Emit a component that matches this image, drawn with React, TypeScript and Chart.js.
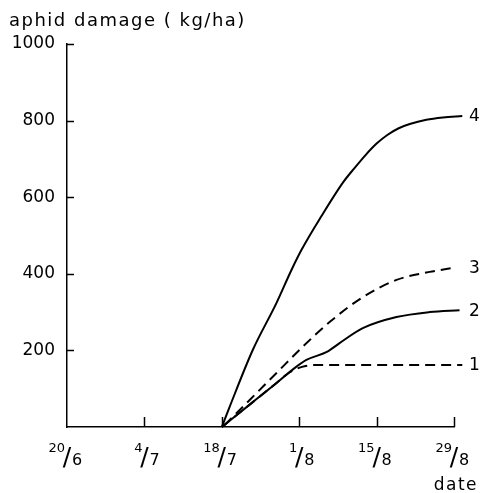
import React, { useEffect, useRef } from "react";
import { Chart, registerables } from "chart.js";

Chart.register(...registerables);

// x values are days after 20 June
const xTickDays = [0, 14, 28, 42, 56, 70];
const xTickNumerators = ["20", "4", "18", "1", "15", "29"];
const xTickDenominators = ["6", "7", "7", "8", "8", "8"];
const yTickValues = [200, 400, 600, 800, 1000];

const series1Days = [28, 33.6, 37.9, 40.3, 42.5, 45, 50, 60, 71.5];
const series1Values = [0, 65, 115, 143, 157, 162, 162, 162, 162];

const series2Days = [28, 33.6, 37.9, 40.3, 43.3, 47, 49.3, 53.5, 59.6, 65.6, 71];
const series2Values = [0, 65, 115, 144, 175, 196, 219, 258, 287, 300, 305];

const series3Days = [28.5, 33, 37.9, 42.6, 47.5, 53.5, 59.6, 65.6, 69.7];
const series3Values = [5, 70, 141, 209, 274, 339, 384, 405, 415];

const series4Days = [28, 29.4, 33.6, 37.9, 40.6, 42.4, 46, 50, 52, 54, 56, 58, 60, 62, 65, 68, 71.5];
const series4Values = [0, 52, 201, 324, 410, 462, 550, 640, 676, 710, 740, 763, 780, 791, 802, 808, 812];

const seriesLabels = ["1", "2", "3", "4"];
const yTitle = "aphid damage ( kg/ha)";
const xTitle = "date";

const FONT = "'DejaVu Sans', sans-serif";

const toPoints = (days: number[], vals: number[]) =>
  days.map((d, i) => ({ x: d, y: vals[i] }));

const decorPlugin = {
  id: "decor",
  afterDraw(chart: any) {
    const ctx = chart.ctx;
    const xs = chart.scales.x;
    const ys = chart.scales.y;
    const area = chart.chartArea;
    ctx.save();
    ctx.strokeStyle = "#000";
    ctx.lineWidth = 1.5;
    // inward y ticks
    yTickValues.forEach((v) => {
      const y = Math.round(ys.getPixelForValue(v)) + 0.5;
      ctx.beginPath();
      ctx.moveTo(area.left, y);
      ctx.lineTo(area.left + 7, y);
      ctx.stroke();
    });
    // inward x ticks
    xTickDays.forEach((d, i) => {
      if (i === 0) return;
      const x = Math.round(xs.getPixelForValue(d)) + 0.5;
      ctx.beginPath();
      ctx.moveTo(x, area.bottom);
      ctx.lineTo(x, area.bottom - 10);
      ctx.stroke();
    });
    ctx.fillStyle = "#000";
    // fraction date labels
    xTickDays.forEach((d, i) => {
      const x = xs.getPixelForValue(d);
      ctx.textBaseline = "alphabetic";
      ctx.font = "13px " + FONT;
      ctx.textAlign = "right";
      ctx.fillText(xTickNumerators[i], x - 2, area.bottom + 25);
      ctx.font = "25px " + FONT;
      ctx.textAlign = "center";
      ctx.fillText("/", x, area.bottom + 38);
      ctx.font = "16px " + FONT;
      ctx.textAlign = "left";
      ctx.fillText(xTickDenominators[i], x + 5, area.bottom + 38);
    });
    // series end labels
    const allDays = [series1Days, series2Days, series3Days, series4Days];
    const allVals = [series1Values, series2Values, series3Values, series4Values];
    ctx.font = "17px " + FONT;
    ctx.textAlign = "left";
    ctx.textBaseline = "middle";
    allDays.forEach((days, i) => {
      const vals = allVals[i];
      const y = ys.getPixelForValue(vals[vals.length - 1]);
      const x = xs.getPixelForValue(70) + 15;
      ctx.fillText(seriesLabels[i], x, y + 1);
    });
    // axis titles
    ctx.font = "18px " + FONT;
    (ctx as any).letterSpacing = "1.5px";
    ctx.textBaseline = "alphabetic";
    ctx.textAlign = "left";
    ctx.fillText(yTitle, 9, 26);
    ctx.font = "17px " + FONT;
    ctx.textAlign = "right";
    ctx.fillText(xTitle, 478, 490);
    ctx.restore();
  },
};

export default function App() {
  const ref = useRef<HTMLCanvasElement | null>(null);
  useEffect(() => {
    document.body.style.margin = "0";
    const canvas = ref.current!;
    const lineBase = {
      borderColor: "#000",
      borderWidth: 2,
      pointRadius: 0,
      fill: false,
      cubicInterpolationMode: "monotone" as const,
      clip: false as any,
    };
    const chart = new Chart(canvas, {
      type: "line",
      data: {
        datasets: [
          { ...lineBase, label: "1", data: toPoints(series1Days, series1Values), borderDash: [10, 6] },
          { ...lineBase, label: "2", data: toPoints(series2Days, series2Values) },
          { ...lineBase, label: "3", data: toPoints(series3Days, series3Values), borderDash: [10, 6] },
          { ...lineBase, label: "4", data: toPoints(series4Days, series4Values) },
        ],
      },
      options: {
        responsive: false,
        animation: false,
        layout: { padding: { left: 0, top: 44, right: 29, bottom: 0 } },
        plugins: { legend: { display: false }, tooltip: { enabled: false } },
        scales: {
          x: {
            type: "linear",
            min: 0,
            max: 70,
            ticks: { display: false, stepSize: 14 },
            grid: { display: false, drawTicks: false },
            border: { display: true, color: "#000", width: 1.5 },
            afterFit: (s: any) => {
              s.height = 66;
            },
          },
          y: {
            type: "linear",
            min: 0,
            max: 1000,
            ticks: {
              stepSize: 200,
              color: "#000",
              padding: 12,
              font: { family: FONT, size: 17 },
              callback: (v: any) => (v === 0 ? "" : String(v)),
            },
            grid: { display: false, drawTicks: false },
            border: { display: true, color: "#000", width: 1.5 },
            afterFit: (s: any) => {
              s.width = 67;
            },
          },
        },
      },
      plugins: [decorPlugin],
    });
    return () => chart.destroy();
  }, []);
  return <canvas ref={ref} width={483} height={493} style={{ display: "block" }} />;
}
